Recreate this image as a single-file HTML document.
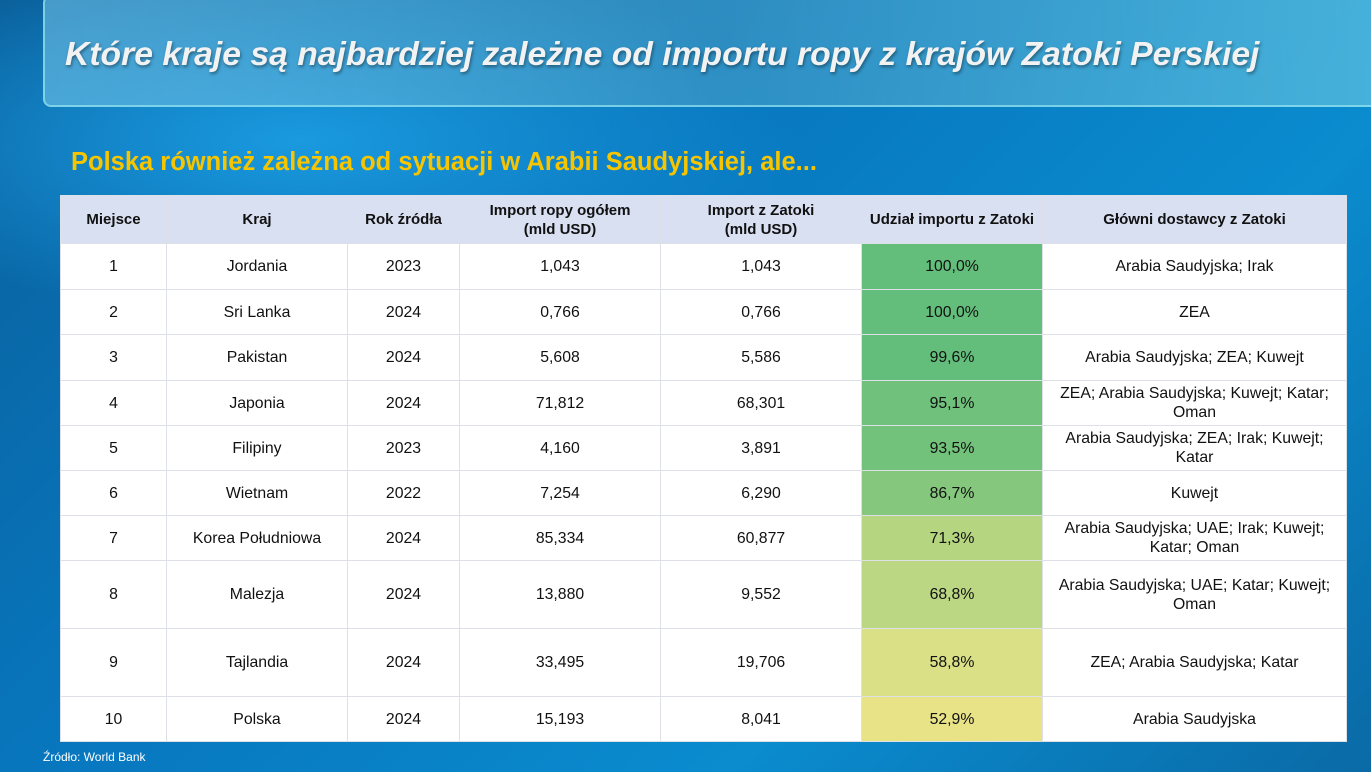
<!DOCTYPE html>
<html><head><meta charset="utf-8"><style>
*{margin:0;padding:0;box-sizing:border-box}
body{width:1371px;height:772px;overflow:hidden;position:relative;font-family:"Liberation Sans",sans-serif;
background:radial-gradient(ellipse 500px 180px at 300px 140px,#1a9ae0 0%,rgba(10,120,200,0) 100%),linear-gradient(135deg,#0a5f9a 0%,#0878c0 40%,#0a8ccf 70%,#0a6aa6 100%);}
.title{position:absolute;left:43px;top:-5px;width:1340px;height:112px;border:2px solid rgba(150,230,240,.7);border-radius:8px;
background:linear-gradient(90deg,rgba(120,200,235,.55),rgba(90,170,200,.45) 50%,rgba(120,210,230,.55));}
.title span{position:absolute;left:20px;top:38px;font-size:33.7px;font-weight:bold;font-style:italic;color:#f2f2f2;text-shadow:1px 2px 3px rgba(0,0,0,.4);white-space:nowrap}
.sub{position:absolute;left:71px;top:148px;font-size:25.5px;font-weight:bold;color:#f6c500;white-space:nowrap}
table{position:absolute;left:60px;top:195px;border-collapse:collapse;background:#fff;font-size:15.8px;color:#111;table-layout:fixed;width:1286px}
td,th{border:1px solid #dde0e6;text-align:center;vertical-align:middle;line-height:19px;padding:0 4px}
td:last-child{padding:0 12px}
th{background:#d9e0f2;font-size:15px;font-weight:bold;height:48px}
.src{position:absolute;left:43px;top:750px;font-size:12px;color:#fff}
</style></head><body>
<div class="title"><span>Które kraje są najbardziej zależne od importu ropy z krajów Zatoki Perskiej</span></div>
<div class="sub">Polska również zależna od sytuacji w Arabii Saudyjskiej, ale...</div>
<table>
<colgroup><col style="width:106px"><col style="width:181px"><col style="width:112px"><col style="width:201px"><col style="width:201px"><col style="width:181px"><col style="width:304px"></colgroup>
<tr><th>Miejsce</th><th>Kraj</th><th>Rok źródła</th><th>Import ropy ogółem<br>(mld USD)</th><th>Import z Zatoki<br>(mld USD)</th><th>Udział importu z Zatoki</th><th>Główni dostawcy z Zatoki</th></tr>
<tr style="height:46px"><td>1</td><td>Jordania</td><td>2023</td><td>1,043</td><td>1,043</td><td style="background:#63be7b">100,0%</td><td>Arabia Saudyjska; Irak</td></tr>
<tr style="height:45px"><td>2</td><td>Sri Lanka</td><td>2024</td><td>0,766</td><td>0,766</td><td style="background:#63be7b">100,0%</td><td>ZEA</td></tr>
<tr style="height:46px"><td>3</td><td>Pakistan</td><td>2024</td><td>5,608</td><td>5,586</td><td style="background:#64be7b">99,6%</td><td>Arabia Saudyjska; ZEA; Kuwejt</td></tr>
<tr style="height:45px"><td>4</td><td>Japonia</td><td>2024</td><td>71,812</td><td>68,301</td><td style="background:#6fc17c">95,1%</td><td>ZEA; Arabia Saudyjska; Kuwejt; Katar; Oman</td></tr>
<tr style="height:45px"><td>5</td><td>Filipiny</td><td>2023</td><td>4,160</td><td>3,891</td><td style="background:#72c27c">93,5%</td><td>Arabia Saudyjska; ZEA; Irak; Kuwejt; Katar</td></tr>
<tr style="height:45px"><td>6</td><td>Wietnam</td><td>2022</td><td>7,254</td><td>6,290</td><td style="background:#86c77e">86,7%</td><td>Kuwejt</td></tr>
<tr style="height:45px"><td>7</td><td>Korea Południowa</td><td>2024</td><td>85,334</td><td>60,877</td><td style="background:#b5d581">71,3%</td><td>Arabia Saudyjska; UAE; Irak; Kuwejt;<br>Katar; Oman</td></tr>
<tr style="height:68px"><td>8</td><td>Malezja</td><td>2024</td><td>13,880</td><td>9,552</td><td style="background:#bcd784">68,8%</td><td>Arabia Saudyjska; UAE; Katar; Kuwejt;<br>Oman</td></tr>
<tr style="height:68px"><td>9</td><td>Tajlandia</td><td>2024</td><td>33,495</td><td>19,706</td><td style="background:#dae086">58,8%</td><td>ZEA; Arabia Saudyjska; Katar</td></tr>
<tr style="height:45px"><td>10</td><td>Polska</td><td>2024</td><td>15,193</td><td>8,041</td><td style="background:#e9e388">52,9%</td><td>Arabia Saudyjska</td></tr>
</table>
<div class="src">Źródło: World Bank</div>
</body></html>
